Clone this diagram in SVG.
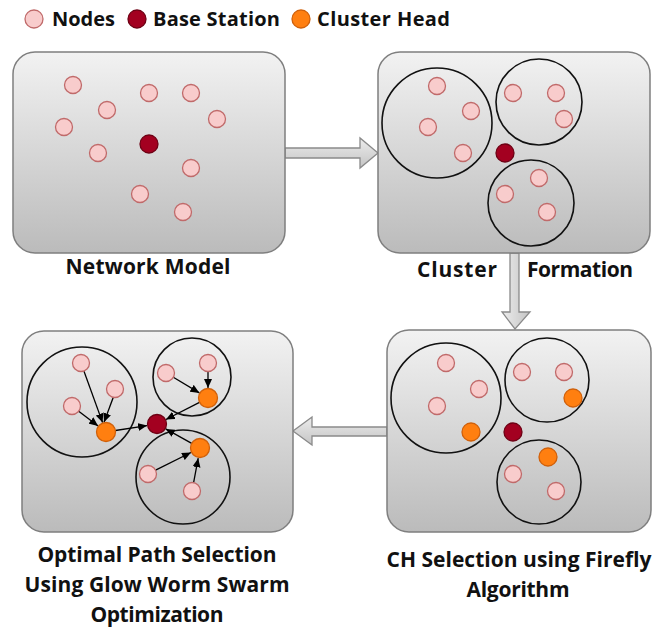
<svg xmlns="http://www.w3.org/2000/svg" width="652" height="630" viewBox="0 0 652 630">
<defs>
<linearGradient id="boxg" x1="0" y1="0" x2="0" y2="1">
<stop offset="0" stop-color="#f2f2f2"/>
<stop offset="1" stop-color="#bbbbbb"/>
</linearGradient>
<linearGradient id="arrg" x1="0" y1="0" x2="0" y2="1">
<stop offset="0" stop-color="#ececec"/>
<stop offset="1" stop-color="#c4c4c4"/>
</linearGradient>
<linearGradient id="arrgv" x1="0" y1="0" x2="1" y2="0">
<stop offset="0" stop-color="#ececec"/>
<stop offset="1" stop-color="#c4c4c4"/>
</linearGradient>
<marker id="ah" markerUnits="userSpaceOnUse" markerWidth="9" markerHeight="8" refX="9" refY="4" orient="auto">
<path d="M0,0 L9,4 L0,8 Z" fill="#000"/>
</marker>
</defs>
<style>
.box{fill:url(#boxg);stroke:#7f7f7f;stroke-width:1.5}
.n{fill:#f8cccc;stroke:#c06a6a;stroke-width:1.3}
.bs{fill:#a30020;stroke:#6e0014;stroke-width:1.3}
.ch{fill:#ff7f10;stroke:#d0600a;stroke-width:1.3}
.cl{fill:none;stroke:#111;stroke-width:1.6}
.lbl{font-family:"Open Sans","Liberation Sans",Arial,sans-serif;font-weight:bold;font-size:21px;fill:#111;text-anchor:middle}
.leg{font-family:"Open Sans","Liberation Sans",Arial,sans-serif;font-weight:bold;font-size:20px;fill:#111}
.ga{stroke:#8a8a8a;stroke-width:1.3}
.ln{stroke:#000;stroke-width:1.3;fill:none;marker-end:url(#ah)}
</style>
<rect width="652" height="630" fill="#fff"/>

<g id="legend">
<circle class="n" cx="34" cy="19" r="9"/>
<text class="leg" x="52" y="26" textLength="63">Nodes</text>
<circle class="bs" cx="137" cy="19" r="9"/>
<text class="leg" x="153" y="26" textLength="127">Base Station</text>
<circle class="ch" cx="301" cy="19" r="9"/>
<text class="leg" x="317" y="26" textLength="133">Cluster Head</text>
</g>

<g id="connectors">
<path class="ga" fill="url(#arrg)" d="M285,148 H360 V138 L378,153 L360,168 V158 H285 Z"/>
<path class="ga" fill="url(#arrgv)" d="M510,253 V312 H502 L515,329 L530,312 H519 V253 Z"/>
<path class="ga" fill="url(#arrg)" d="M387,427 H312 V417 L293,431 L312,445 V436 H387 Z"/>
</g>

<g id="network-model">
<rect class="box" x="13" y="52" width="272" height="201" rx="22"/>
<circle class="n" cx="73" cy="85" r="8.5"/>
<circle class="n" cx="107" cy="110" r="8.5"/>
<circle class="n" cx="64" cy="127" r="8.5"/>
<circle class="n" cx="98" cy="153" r="8.5"/>
<circle class="n" cx="149" cy="93" r="8.5"/>
<circle class="n" cx="191" cy="93" r="8.5"/>
<circle class="n" cx="217" cy="119" r="8.5"/>
<circle class="bs" cx="149" cy="144" r="9"/>
<circle class="n" cx="191" cy="168" r="8.5"/>
<circle class="n" cx="140" cy="194" r="8.5"/>
<circle class="n" cx="183" cy="212" r="8.5"/>
<text class="lbl" x="148" y="274" textLength="165">Network Model</text>
</g>

<g id="cluster-formation">
<rect class="box" x="378" y="52" width="272" height="201" rx="22"/>
<circle class="cl" cx="437" cy="123" r="55"/>
<circle class="cl" cx="539" cy="102" r="43"/>
<circle class="cl" cx="531" cy="203" r="43"/>
<circle class="n" cx="437" cy="86" r="8.5"/>
<circle class="n" cx="471" cy="111" r="8.5"/>
<circle class="n" cx="428" cy="127" r="8.5"/>
<circle class="n" cx="463" cy="153" r="8.5"/>
<circle class="bs" cx="505" cy="153" r="9"/>
<circle class="n" cx="513" cy="93" r="8.5"/>
<circle class="n" cx="556" cy="93" r="8.5"/>
<circle class="n" cx="564" cy="119" r="8.5"/>
<circle class="n" cx="539" cy="178" r="8.5"/>
<circle class="n" cx="505" cy="194" r="8.5"/>
<circle class="n" cx="547" cy="212" r="8.5"/>
<text class="lbl" x="457" y="277" textLength="80">Cluster</text>
<text class="lbl" x="580" y="277" textLength="106">Formation</text>
</g>

<g id="ch-selection">
<rect class="box" x="387" y="330" width="264" height="202" rx="22"/>
<circle class="cl" cx="446" cy="398" r="55"/>
<circle class="cl" cx="547" cy="380" r="42"/>
<circle class="cl" cx="539" cy="482" r="42"/>
<circle class="n" cx="446" cy="363" r="8.5"/>
<circle class="n" cx="479" cy="389" r="8.5"/>
<circle class="n" cx="437" cy="406" r="8.5"/>
<circle class="ch" cx="471" cy="432" r="9"/>
<circle class="bs" cx="513" cy="432" r="9"/>
<circle class="n" cx="522" cy="372" r="8.5"/>
<circle class="n" cx="564" cy="372" r="8.5"/>
<circle class="ch" cx="573" cy="398" r="9"/>
<circle class="ch" cx="548" cy="457" r="9"/>
<circle class="n" cx="513" cy="474" r="8.5"/>
<circle class="n" cx="556" cy="491" r="8.5"/>
<text class="lbl" x="519" y="567" textLength="265">CH Selection using Firefly</text>
<text class="lbl" x="518" y="597" textLength="103">Algorithm</text>
</g>

<g id="optimal-path">
<rect class="box" x="22" y="331" width="271" height="201" rx="22"/>
<circle class="cl" cx="82" cy="402" r="55"/>
<circle class="cl" cx="192" cy="377" r="39"/>
<circle class="cl" cx="183" cy="477" r="47"/>
<path class="ln" d="M83.9,371 L102.6,422.6"/>
<path class="ln" d="M113.3,397.3 L104,422.2"/>
<path class="ln" d="M78.7,411.2 L98.1,425.9"/>
<path class="ln" d="M115.4,430.5 L147.1,425.6"/>
<path class="ln" d="M173.3,377.3 L199.4,392.9"/>
<path class="ln" d="M208,371.5 L208,388"/>
<path class="ln" d="M199.5,402.3 L165.9,419.5"/>
<path class="ln" d="M191.7,443.4 L165.7,428.9"/>
<path class="ln" d="M155.6,470.2 L191,452.5"/>
<path class="ln" d="M193.6,482.6 L198.2,458.2"/>
<circle class="n" cx="81" cy="363" r="8.5"/>
<circle class="n" cx="115" cy="389" r="8.5"/>
<circle class="n" cx="72" cy="406" r="8.5"/>
<circle class="ch" cx="106" cy="432" r="9.5"/>
<circle class="bs" cx="157" cy="424" r="9.5"/>
<circle class="n" cx="166" cy="373" r="8.5"/>
<circle class="n" cx="208" cy="363" r="8.5"/>
<circle class="ch" cx="208" cy="398" r="9.5"/>
<circle class="ch" cx="200" cy="448" r="9.5"/>
<circle class="n" cx="148" cy="474" r="8.5"/>
<circle class="n" cx="192" cy="491" r="8.5"/>
<text class="lbl" x="157" y="562" textLength="239">Optimal Path Selection</text>
<text class="lbl" x="157" y="592" textLength="265">Using Glow Worm Swarm</text>
<text class="lbl" x="157" y="622" textLength="133">Optimization</text>
</g>
</svg>
